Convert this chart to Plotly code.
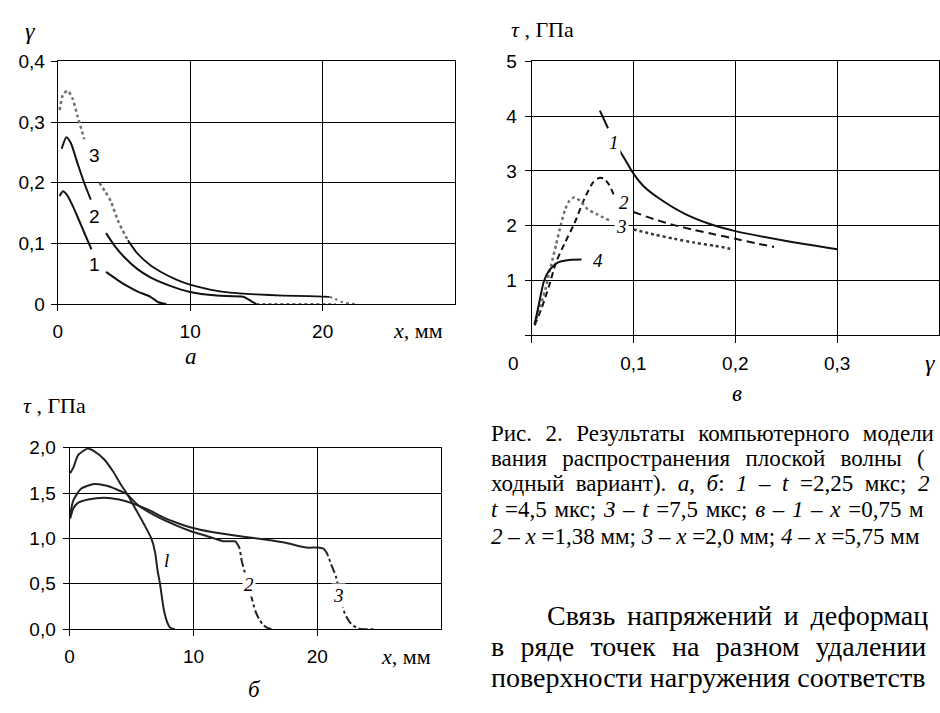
import plotly.graph_objects as go

W, H = 940, 713

# ---------------- Panel a : gamma(x) ----------------
a_tick_x = [0, 10, 20]
a_tick_x_text = ["0", "10", "20"]
a_tick_y = [0, 0.1, 0.2, 0.3, 0.4]
a_tick_y_text = ["0", "0,1", "0,2", "0,3", "0,4"]

a1_x_s1 = [0.15, 0.4, 0.7, 1.0, 1.5, 2.0, 2.55]
a1_y_s1 = [0.178, 0.186, 0.18, 0.168, 0.144, 0.118, 0.09]
a1_x_s2 = [3.65, 4.5, 5.3, 6.0, 7.0, 7.6, 8.2]
a1_y_s2 = [0.053, 0.04, 0.029, 0.021, 0.012, 0.003, 0.0]

a2_x_s1 = [0.3, 0.66, 1.0, 1.5, 2.0, 2.5]
a2_y_s1 = [0.256, 0.275, 0.265, 0.232, 0.2, 0.172]
a2_x_s2 = [3.65, 4.3, 5.0, 6.0, 7.0, 8.5, 10, 12, 14, 14.6, 15.0]
a2_y_s2 = [0.117, 0.096, 0.078, 0.058, 0.044, 0.03, 0.02, 0.014, 0.012, 0.005, 0.0]
a2_x_tail = [15.0, 21.0]
a2_y_tail = [0.0, 0.0]

a3_x_s1 = [0.15, 0.4, 0.75, 1.1, 1.5, 2.0]
a3_y_s1 = [0.32, 0.345, 0.352, 0.34, 0.31, 0.272]
a3_x_s2 = [3.15, 3.6, 4.0, 4.6, 5.3]
a3_y_s2 = [0.2, 0.185, 0.17, 0.135, 0.105]
a3_x_s3 = [5.3, 6.0, 7.0, 7.8, 9.0, 10, 11.5, 13, 15, 17, 19, 20.5]
a3_y_s3 = [0.105, 0.084, 0.064, 0.053, 0.04, 0.032, 0.024, 0.019, 0.016, 0.014, 0.013, 0.012]
a3_x_s4 = [20.5, 21.0, 21.5, 22.0, 22.5]
a3_y_s4 = [0.012, 0.008, 0.003, 0.001, 0.0]

# ---------------- Panel v : tau(gamma) ----------------
v_tick_x = [0, 0.1, 0.2, 0.3]
v_tick_x_text = ["", "0,1", "0,2", "0,3"]
v_tick_y = [0, 1, 2, 3, 4, 5]
v_tick_y_text = ["", "1", "2", "3", "4", "5"]

v1_x_s1 = [0.067, 0.075]
v1_y_s1 = [4.1, 3.78]
v1_x_s2 = [0.085, 0.092, 0.1, 0.11, 0.125, 0.15, 0.175, 0.2, 0.25, 0.3]
v1_y_s2 = [3.42, 3.2, 2.95, 2.72, 2.5, 2.22, 2.03, 1.9, 1.72, 1.57]

v2_x_s1 = [0.003, 0.01, 0.017, 0.024, 0.033, 0.042, 0.052, 0.06, 0.066, 0.071, 0.076, 0.081]
v2_y_s1 = [0.18, 0.5, 0.89, 1.33, 1.7, 2.04, 2.5, 2.78, 2.87, 2.86, 2.75, 2.55]
v2_x_s2 = [0.1, 0.12, 0.14, 0.16, 0.18, 0.2, 0.22, 0.238]
v2_y_s2 = [2.25, 2.12, 2.01, 1.92, 1.84, 1.76, 1.68, 1.61]

v3_x_s1 = [0.003, 0.008, 0.013, 0.019, 0.024, 0.029, 0.033, 0.037, 0.042, 0.049, 0.055, 0.065, 0.076]
v3_y_s1 = [0.2, 0.5, 0.8, 1.27, 1.65, 2.04, 2.3, 2.45, 2.52, 2.43, 2.3, 2.2, 2.1]
v3_x_s2 = [0.1, 0.12, 0.14, 0.16, 0.18, 0.195]
v3_y_s2 = [1.93, 1.84, 1.76, 1.69, 1.63, 1.58]

v4_x = [0.003, 0.007, 0.012, 0.018, 0.026, 0.035, 0.049]
v4_y = [0.2, 0.55, 0.98, 1.2, 1.33, 1.37, 1.38]

# ---------------- Panel b : tau(x) ----------------
b_tick_x = [0, 10, 20]
b_tick_x_text = ["0", "10", "20"]
b_tick_y = [0, 0.5, 1.0, 1.5, 2.0]
b_tick_y_text = ["0,0", "0,5", "1,0", "1,5", "2,0"]

b1_x = [0.05, 0.3, 0.7, 1.45, 2.0, 2.8, 3.5, 4.2, 4.6, 5.1, 6.0, 6.6, 6.9, 7.1, 7.3, 7.6, 7.9, 8.1, 8.5]
b1_y = [1.72, 1.78, 1.92, 1.99, 1.96, 1.87, 1.74, 1.58, 1.5, 1.38, 1.16, 1.0, 0.85, 0.65, 0.5, 0.22, 0.07, 0.02, 0.0]

b2_x_s1 = [0.05, 0.3, 0.95, 2.0, 3.0, 4.6, 5.5, 6.8, 8.5, 9.8, 11.0, 11.9, 12.4, 13.0, 13.4]
b2_y_s1 = [1.26, 1.42, 1.55, 1.6, 1.58, 1.49, 1.37, 1.26, 1.15, 1.08, 1.03, 0.99, 0.97, 0.97, 0.97]
b2_x_s2 = [13.4, 13.7, 13.9, 14.2, 14.6, 15.0, 15.3, 15.6, 15.9, 16.3]
b2_y_s2 = [0.97, 0.9, 0.75, 0.6, 0.4, 0.2, 0.11, 0.05, 0.02, 0.0]

b3_x_s1 = [0.05, 0.3, 0.65, 1.5, 2.8, 4.0, 5.0, 5.5, 6.3, 7.6, 8.7, 9.8, 11.5, 13.5, 14.05, 16.2, 17.5, 19.1, 20.0, 20.5]
b3_y_s1 = [1.22, 1.33, 1.39, 1.43, 1.45, 1.43, 1.39, 1.365, 1.32, 1.23, 1.17, 1.12, 1.07, 1.03, 1.02, 0.98, 0.95, 0.9, 0.9, 0.89]
b3_x_s2 = [20.5, 20.8, 21.1, 21.5, 21.8, 22.2, 22.6, 22.9, 23.3, 23.7, 24.7]
b3_y_s2 = [0.89, 0.83, 0.72, 0.58, 0.4, 0.18, 0.08, 0.04, 0.01, 0.0, 0.0]

# visible part of the page text (the reference is cropped at the right edge)
caption_lines = [
    "Рис. 2. Результаты компьютерного модели",
    "вания распространения плоской волны (",
    "ходный вариант). <i>а</i>, <i>б</i>: <i>1</i> – <i>t</i> =2,25 мкс; <i>2</i>",
    "<i>t</i> =4,5 мкс; <i>3</i> – <i>t</i> =7,5 мкс; <i>в</i> – <i>1</i> – <i>x</i> =0,75 м",
    "<i>2</i> – <i>x</i> =1,38 мм; <i>3</i> – <i>x</i> =2,0 мм; <i>4</i> – <i>x</i> =5,75 мм",
]
body_lines = [
    "Связь напряжений и деформац",
    "в ряде точек на разном удалении",
    "поверхности нагружения соответств",
]

BLACK = "#111111"
GRAY = "#6e6e6e"

fig = go.Figure()


def add(x, y, xa, ya, color=BLACK, dash="solid", width=2):
    fig.add_trace(go.Scatter(x=x, y=y, xaxis=xa, yaxis=ya, mode="lines",
                             line=dict(color=color, dash=dash, width=width, shape="spline", smoothing=0.6),
                             showlegend=False, hoverinfo="skip"))


# panel a
add(a1_x_s1, a1_y_s1, "x", "y")
add(a1_x_s2, a1_y_s2, "x", "y")
add(a2_x_s1, a2_y_s1, "x", "y")
add(a2_x_s2, a2_y_s2, "x", "y")
add(a2_x_tail, a2_y_tail, "x", "y", color=GRAY, dash="dot")
add(a3_x_s1, a3_y_s1, "x", "y", color=GRAY, dash="dot", width=2.5)
add(a3_x_s2, a3_y_s2, "x", "y", color=GRAY, dash="dot", width=2.5)
add(a3_x_s3, a3_y_s3, "x", "y", width=1.8)
add(a3_x_s4, a3_y_s4, "x", "y", color=GRAY, dash="dot", width=2)

# panel v
add(v1_x_s1, v1_y_s1, "x2", "y2")
add(v1_x_s2, v1_y_s2, "x2", "y2")
add(v2_x_s1, v2_y_s1, "x2", "y2", dash="6px,4px")
add(v2_x_s2, v2_y_s2, "x2", "y2", dash="8px,5px")
add(v3_x_s1, v3_y_s1, "x2", "y2", color=GRAY, dash="dot", width=2.5)
add(v3_x_s2, v3_y_s2, "x2", "y2", color="#333333", dash="dot", width=2.5)
add(v4_x, v4_y, "x2", "y2")

# panel b
add(b1_x, b1_y, "x3", "y3", color="#222222")
add(b2_x_s1, b2_y_s1, "x3", "y3", color="#222222")
add(b2_x_s2, b2_y_s2, "x3", "y3", color="#222222", dash="dashdot")
add(b3_x_s1, b3_y_s1, "x3", "y3", color="#222222")
add(b3_x_s2, b3_y_s2, "x3", "y3", color="#222222", dash="dashdot")


def px(x):
    return x / W


def py(y):
    return 1 - y / H


SERIF = "Liberation Serif"
SANS = "Liberation Sans"
TICKFONT = dict(family=SANS, size=19, color="black")
axis_common = dict(showline=True, mirror=True, linecolor="black", linewidth=1,
                   showgrid=True, gridcolor="black", gridwidth=1, zeroline=False,
                   ticks="outside", ticklen=6, tickcolor="black", tickwidth=1,
                   tickfont=TICKFONT, tickmode="array", fixedrange=True)

layout = dict(
    width=W, height=H, margin=dict(l=0, r=0, t=0, b=0),
    paper_bgcolor="white", plot_bgcolor="white", showlegend=False,
    font=dict(family=SANS, color="black"),
    xaxis=dict(axis_common, domain=[px(53), px(453)], range=[0, 30],
               tickvals=a_tick_x, ticktext=a_tick_x_text, anchor="y", ticklabelstandoff=4),
    yaxis=dict(axis_common, domain=[py(303), py(53)], range=[0, 0.4],
               tickvals=a_tick_y, ticktext=a_tick_y_text, anchor="x", ticklabelstandoff=2),
    xaxis2=dict(axis_common, domain=[px(530), 1.0], range=[0, 0.4],
                tickvals=v_tick_x, ticktext=v_tick_x_text, anchor="y2", ticklen=7,
                ticklabelstandoff=4),
    yaxis2=dict(axis_common, domain=[py(335), py(53)], range=[0, 5],
                tickvals=v_tick_y, ticktext=v_tick_y_text, anchor="x2", ticklabelstandoff=4),
    xaxis3=dict(axis_common, domain=[px(65), px(439)], range=[0, 30],
                tickvals=b_tick_x, ticktext=b_tick_x_text, anchor="y3", ticklabelstandoff=4),
    yaxis3=dict(axis_common, domain=[py(638), py(451)], range=[0, 2.0],
                tickvals=b_tick_y, ticktext=b_tick_y_text, anchor="x3", ticklabelstandoff=3),
)
fig.update_layout(**layout)

ann = []


def text(x, y, s, size=20, family=SERIF, xanchor="center", bg=None):
    d = dict(x=px(x), y=py(y), xref="paper", yref="paper", text=s, showarrow=False,
             xanchor=xanchor, yanchor="middle", font=dict(family=family, size=size, color="black"))
    if bg:
        d["bgcolor"] = bg
    ann.append(d)


# panel a texts
text(25, 22, "<i>γ</i>", size=24)
text(416, 330, "<i>x</i>, мм", size=22)
text(187, 357, "<i>а</i>", size=23)
text(90, 262, "1", size=19, family=SANS)
text(90, 213, "2", size=19, family=SANS)
text(90, 150, "3", size=19, family=SANS)

# panel v texts
text(541, 20, "<i>τ</i> , ГПа", size=22)
text(512, 364, "0", size=19, family=SANS)
text(931, 364, "<i>γ</i>", size=24)
text(737, 395, "<i>в</i>", size=23)
text(613, 137, "<i>1</i>", size=19, bg="white")
text(623, 198, "<i>2</i>", size=19)
text(620, 223, "<i>3</i>", size=19, bg="white")
text(597, 258, "<i>4</i>", size=19)

# panel b texts
text(50, 408, "<i>τ</i> , ГПа", size=22)
text(404, 666, "<i>x</i>, мм", size=22)
text(251, 700, "<i>б</i>", size=23)
text(163, 567, "<i>l</i>", size=19)
text(246, 592, "<i>2</i>", size=19, bg="white")
text(336, 603, "<i>3</i>", size=19, bg="white")

# caption (justified look via wider word gaps)
cap_y = [436, 462, 488, 515, 542]
cap_gap = [" \u2004", " \u2005\u2006", " \u2005", " \u200a", " "]
for yy, s, g in zip(cap_y, caption_lines, cap_gap):
    text(487, yy, s.replace(" ", g), size=23, xanchor="left")
body_y = [624, 656, 688]
body_x = [543, 487, 487]
body_gap = [" \u2006", " \u2004", " "]
for xx, yy, s, g in zip(body_x, body_y, body_lines, body_gap):
    text(xx, yy, s.replace(" ", g), size=28, xanchor="left")

fig.update_layout(annotations=ann)
fig.write_html("out.html")
